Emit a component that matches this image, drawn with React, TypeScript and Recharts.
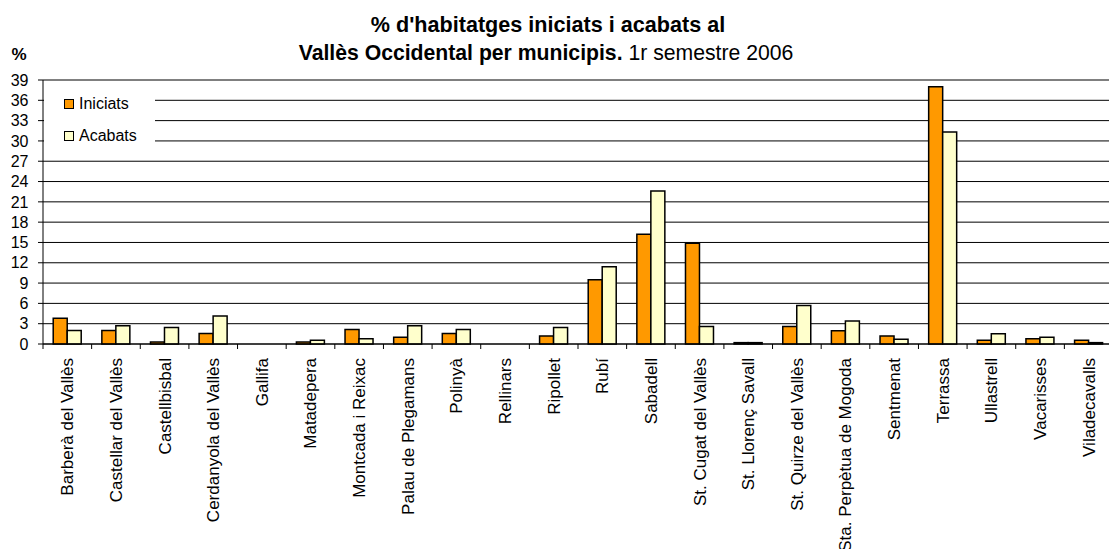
import { BarChart, Bar, XAxis, YAxis, CartesianGrid, Legend } from "recharts";

const MUNICIPIS = [
  "Barberà del Vallès",
  "Castellar del Vallès",
  "Castellbisbal",
  "Cerdanyola del Vallès",
  "Gallifa",
  "Matadepera",
  "Montcada i Reixac",
  "Palau de Plegamans",
  "Polinyà",
  "Rellinars",
  "Ripollet",
  "Rubí",
  "Sabadell",
  "St. Cugat del Vallès",
  "St. Llorenç Savall",
  "St. Quirze del Vallès",
  "Sta. Perpètua de Mogoda",
  "Sentmenat",
  "Terrassa",
  "Ullastrell",
  "Vacarisses",
  "Viladecavalls",
];

const INICIATS = [3.8, 2.0, 0.3, 1.55, 0, 0.3, 2.15, 1.0, 1.55, 0, 1.2, 9.5, 16.2, 14.9, 0.2, 2.6, 1.95, 1.2, 38.0, 0.56, 0.77, 0.56];
const ACABATS = [2.0, 2.7, 2.45, 4.15, 0, 0.56, 0.77, 2.7, 2.15, 0, 2.45, 11.4, 22.6, 2.6, 0.2, 5.7, 3.4, 0.7, 31.3, 1.5, 1.0, 0.2];

const Y_TICKS = [0, 3, 6, 9, 12, 15, 18, 21, 24, 27, 30, 33, 36, 39];

const data = MUNICIPIS.map((name, i) => ({ name, iniciats: INICIATS[i], acabats: ACABATS[i] }));

const FONT = "'Liberation Sans', Arial, sans-serif";
const TOP = 80;
const PLOT_H = 264;
const AXIS_Y = TOP + PLOT_H;
const Y_AXIS_W = 43;
const PLOT_W = 1070;
const HALF = PLOT_W / MUNICIPIS.length / 2;

function MunicipiTick(props: any) {
  const { x, payload } = props;
  return (
    <g>
      <line x1={x - HALF} x2={x - HALF} y1={AXIS_Y} y2={AXIS_Y + 5} stroke="#000" />
      <text
        transform={`translate(${x},${AXIS_Y + 14}) rotate(-90)`}
        textAnchor="end"
        dy="0.35em"
        fontSize={17}
        fontFamily={FONT}
        fill="#000"
      >
        {payload.value}
      </text>
    </g>
  );
}

function LegendBox() {
  const items = [
    { label: "Iniciats", color: "#FF9900" },
    { label: "Acabats", color: "#FFFFCC" },
  ];
  return (
    <div style={{ paddingTop: 5, fontFamily: FONT, fontSize: 16, color: "#000" }}>
      {items.map((it) => (
        <div key={it.label} style={{ display: "flex", alignItems: "center", height: 22, marginBottom: 10, paddingLeft: 20 }}>
          <span style={{ width: 8, height: 8, background: it.color, border: "1.5px solid #000", display: "inline-block" }} />
          <span style={{ marginLeft: 5 }}>{it.label}</span>
        </div>
      ))}
    </div>
  );
}

export default function App() {
  return (
    <div style={{ position: "absolute", left: 0, top: 0, width: 1109, height: 549, overflow: "hidden", background: "#fff" }}>
      <svg width={1109} height={80} style={{ position: "absolute", left: 0, top: 0 }}>
        <text x={548} y={32} textAnchor="middle" fontSize={21.6} fontWeight="bold" fontFamily={FONT} fill="#000">
          % d'habitatges iniciats i acabats al
        </text>
        <text x={546} y={60} textAnchor="middle" fontSize={21.2} fontFamily={FONT} fill="#000">
          <tspan fontWeight="bold">Vallès Occidental per municipis.</tspan>
          {" 1r semestre 2006"}
        </text>
        <text x={11.5} y={60} fontSize={17} fontWeight="bold" fontFamily={FONT} fill="#000">
          %
        </text>
      </svg>
      <div style={{ position: "absolute", left: 0, top: 0 }}>
        <BarChart
          width={Y_AXIS_W + PLOT_W}
          height={549}
          data={data}
          margin={{ top: TOP, right: 0, bottom: 0, left: 0 }}
          barCategoryGap="21%"
          barGap={0}
        >
          <CartesianGrid vertical={false} stroke="#000" strokeWidth={1} />
          <XAxis
            dataKey="name"
            interval={0}
            height={549 - AXIS_Y}
            tickLine={false}
            axisLine={{ stroke: "#000" }}
            tick={<MunicipiTick />}
          />
          <YAxis
            width={Y_AXIS_W}
            domain={[0, 39]}
            ticks={Y_TICKS}
            interval={0}
            tickSize={5}
            tickMargin={9.5}
            axisLine={{ stroke: "#000" }}
            tickLine={{ stroke: "#000" }}
            tick={{ fill: "#000", fontSize: 16, fontFamily: FONT }}
          />
          <Legend
            layout="vertical"
            align="center"
            verticalAlign="middle"
            content={<LegendBox />}
            wrapperStyle={{ left: 44, top: 88, width: 111, height: 62, background: "#fff" }}
          />
          <Bar dataKey="iniciats" name="Iniciats" fill="#FF9900" stroke="#000" strokeWidth={1.5} isAnimationActive={false} />
          <Bar dataKey="acabats" name="Acabats" fill="#FFFFCC" stroke="#000" strokeWidth={1.5} isAnimationActive={false} />
        </BarChart>
      </div>
    </div>
  );
}
